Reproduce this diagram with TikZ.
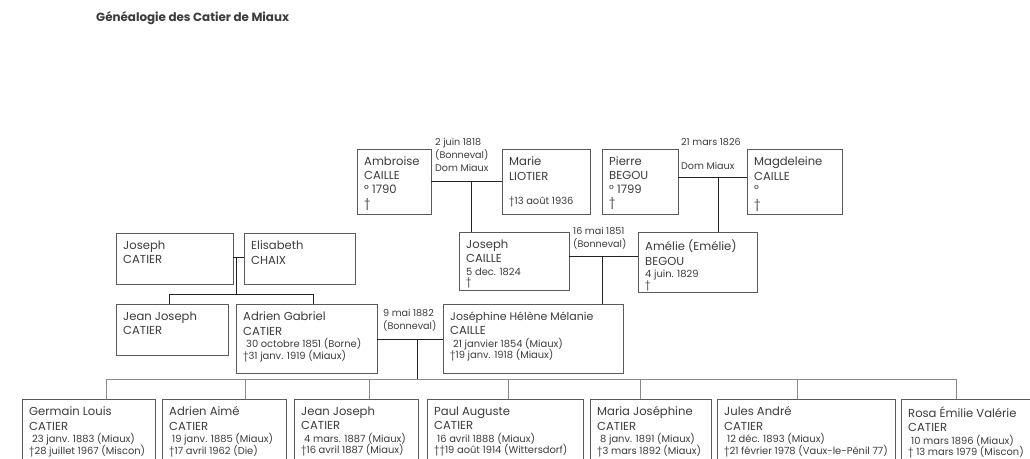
\documentclass[tikz,border=0pt]{standalone}
\usepackage{fontspec}
\setmainfont{Poppins}
\definecolor{txt}{HTML}{3C3C3C}
\definecolor{boxc}{HTML}{5A5A5A}
\definecolor{linec}{HTML}{222222}
\definecolor{lgray}{HTML}{8A8A8A}
\newcommand\nm{\fontsize{11.6}{14.5}\selectfont}
\newcommand\sm{\fontsize{9.9}{12}\selectfont}
\newcommand\lb{\fontsize{9.6}{13}\selectfont}
\tikzset{
  pbox/.style={draw=boxc, line width=0.8pt, fill=white, inner sep=0pt, outer sep=0pt, rectangle},
  ptext/.style={text=txt, align=left, inner sep=0pt, font=\nm},
  mlabel/.style={text=txt, align=left, inner sep=0pt, font=\lb, anchor=north west},
  spouse/.style={draw=linec, line width=0.8pt},
  kid/.style={draw=lgray, line width=0.8pt},
}
\newcommand\pbox[6]{%
  \node[pbox, anchor=north west, minimum width=#4-#2, minimum height=#5-#3] (#1) at (#2,#3) {};
  \node[ptext, anchor=north west] (#1t) at ([shift={(7,7.5)}]#1.north west) {#6};}
\begin{document}
\begin{tikzpicture}[x=1pt,y=-1pt]
\useasboundingbox (0,0) rectangle (1030,458);
\clip (0,0) rectangle (1030,458);
\fill[white] (0,0) rectangle (1030,458);

\node[anchor=west, inner sep=0pt, text=txt, font=\fontsize{11.9}{14}\selectfont\bfseries] (title) at (96,18) {Généalogie des Catier de Miaux};

% generation 1
\pbox{ambroise}{357}{149}{431}{214}{Ambroise\\[-0.5pt]CAILLE\\[-0.5pt]° 1790\\[-1pt]†}
\pbox{marie}{502}{149}{590}{214}{Marie\\LIOTIER\\[10pt]{\sm †13 août 1936}}
\pbox{pierre}{602}{149}{678}{214}{Pierre\\[-0.5pt]BEGOU\\[-1pt]° 1799\\[-1pt]†}
\pbox{magdeleine}{747}{149}{842}{214}{Magdeleine\\CAILLE\\[-1pt]°\\†}

% generation 2
\pbox{josephcat}{116}{233}{233}{284}{Joseph\\CATIER}
\pbox{elisabeth}{244}{233}{355}{284}{Elisabeth\\CHAIX}
\pbox{josephcai}{459}{232}{569}{290}{Joseph\\CAILLE\\[-2pt]{\sm 5 dec. 1824}\\[-4pt]{\sm †}}
\pbox{amelie}{638}{232}{757}{292}{Amélie (Emélie)\\BEGOU\\[-2pt]{\sm 4 juin. 1829}\\[-4pt]{\sm †}}

% generation 3
\pbox{jeanjoseph}{116}{304}{228}{355}{Jean Joseph\\CATIER}
\pbox{adrien}{236}{304}{377}{373}{Adrien Gabriel\\CATIER\\[-2pt]{\sm\hspace{3pt}30 octobre 1851 (Borne)}\\[-3pt]{\sm †31 janv. 1919 (Miaux)}}
\pbox{josephine}{443}{304}{623}{373}{{\fontsize{11}{14.5}\selectfont Joséphine Hélène Mélanie}\\CAILLE\\[-2pt]{\sm\hspace{3pt}21 janvier 1854 (Miaux)}\\[-3pt]{\sm †19 janv. 1918 (Miaux)}}

% generation 4
\pbox{germain}{22}{399}{155}{470}{Germain Louis\\CATIER\\[-2pt]{\sm\hspace{3pt}23 janv. 1883 (Miaux)}\\[-3pt]{\sm †28 juillet 1967 (Miscon)}}
\pbox{adrienaime}{162}{399}{286}{470}{Adrien Aimé\\CATIER\\[-2pt]{\sm\hspace{3pt}19 janv. 1885 (Miaux)}\\[-3pt]{\sm †17 avril 1962 (Die)}}
\pbox{jeanjoseph2}{294}{399}{418}{470}{Jean Joseph\\CATIER\\[-2pt]{\sm\hspace{3pt}4 mars. 1887 (Miaux)}\\[-3pt]{\sm †16 avril 1887 (Miaux)}}
\pbox{paul}{427}{399}{583}{470}{Paul Auguste\\CATIER\\[-2pt]{\sm\hspace{3pt}16 avril 1888 (Miaux)}\\[-3pt]{\sm ††19 août 1914 (Wittersdorf)}}
\pbox{maria}{590}{399}{711}{470}{Maria Joséphine\\CATIER\\[-2pt]{\sm\hspace{3pt}8 janv. 1891 (Miaux)}\\[-3pt]{\sm †3 mars 1892 (Miaux)}}
\pbox{jules}{717}{399}{895}{470}{Jules André\\CATIER\\[-2pt]{\sm\hspace{3pt}12 déc. 1893 (Miaux)}\\[-3pt]{\sm †21 février 1978 (Vaux-le-Pénil 77)}}
\pbox{rosa}{901}{399}{1045}{470}{Rosa Émilie Valérie\\CATIER\\[-2pt]{\sm\hspace{3pt}10 mars 1896 (Miaux)}\\[-3pt]{\sm † 13 mars 1979 (Miscon)}}

% marriages
\coordinate (m1) at (471,181);
\coordinate (m2) at (718,177);
\coordinate (m3) at (236,257);
\coordinate (m4) at (602,256);
\coordinate (m5) at (417,339);

\draw[spouse] (m1 -| ambroise.east) -- (m1 -| marie.west);
\draw[spouse] (m1) -- (m1 |- josephcai.north);
\node[mlabel] (l1) at (435,138) {2 juin 1818\\(Bonneval)\\Dom Miaux};

\draw[spouse] (m2 -| pierre.east) -- (m2 -| magdeleine.west);
\draw[spouse] (m2) -- (m2 |- amelie.north);
\node[mlabel] (l2a) at (681,138) {21 mars 1826};
\node[mlabel] (l2b) at (681,162) {Dom Miaux};

\draw[spouse] (m3 -| josephcat.east) -- (m3 -| elisabeth.west);
\coordinate (s3) at (236,294);
\draw[spouse] (m3) -- (s3);
\coordinate (s3a) at (169,294);
\coordinate (s3b) at (313,294);
\draw[spouse] (s3a) -- (s3b);
\draw[spouse] (s3a) -- (s3a |- jeanjoseph.north);
\draw[spouse] (s3b) -- (s3b |- adrien.north);

\draw[spouse] (m4 -| josephcai.east) -- (m4 -| amelie.west);
\draw[spouse] (m4) -- (m4 |- josephine.north);
\node[mlabel] (l4) at (573,227) {16 mai 1851\\(Bonneval)};

\draw[spouse] (m5 -| adrien.east) -- (m5 -| josephine.west);
\node[mlabel] (l5) at (383,309) {9 mai 1882\\(Bonneval)};
\coordinate (s5) at (417,379);
\draw[spouse] (m5) -- (s5);
\coordinate (k1) at (106,379);
\coordinate (k7) at (956,379);
\draw[kid] (k1) -- (k7);
\foreach \c/\n in {106/germain,245/adrienaime,369/jeanjoseph2,508/paul,640/maria,797/jules,956/rosa}{
  \draw[kid] (\c,379) -- (\c,379 |- \n.north);
}
\end{tikzpicture}
\end{document}
